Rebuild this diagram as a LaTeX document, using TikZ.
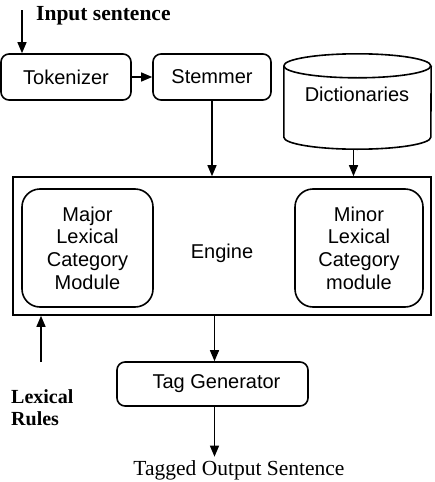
\documentclass[tikz,border=0pt]{standalone}
\usepackage{fontspec}
\setmainfont{Liberation Serif}
\setsansfont{Liberation Sans}
\usetikzlibrary{arrows.meta}

\tikzset{
    block/.style={draw, line width=1.6pt, rounded corners=8pt, font=\sffamily\fontsize{20}{22}\selectfont},
    module/.style={block, rounded corners=18pt, align=center, font=\sffamily\fontsize{20}{22.7}\selectfont},
    flow/.style={line width=1.4pt, -{Triangle[length=11pt,width=9pt]}},
    boldlbl/.style={font=\bfseries\fontsize{20}{22}\selectfont, align=left}
}

\begin{document}
\begin{tikzpicture}[x=1pt,y=1pt]
            \useasboundingbox (0,0) rectangle (434,-482);
            % top row
            \node[block, minimum width=130pt, minimum height=46pt] (tok) at (66,-77) {Tokenizer};
            \node[block, minimum width=118pt, minimum height=46pt] (stem) at (212,-77) {Stemmer};
            \node[minimum width=147pt, minimum height=95pt] (dict) at (357.5,-101.5) {};
            \draw[line width=1.6pt] (dict.north west) ++(0,-12) arc (180:-180:73.5 and 12);
            \draw[line width=1.6pt] ([yshift=-12pt]dict.north west) -- ([yshift=12pt]dict.south west)
                arc (180:360:73.5 and 12) -- ([yshift=-12pt]dict.north east);
            \node[font=\sffamily\fontsize{20}{22}\selectfont] (dictlbl) at (357,-94) {Dictionaries};
            % engine
            \node[draw, line width=1.6pt, minimum width=418pt, minimum height=138pt] (engine) at (222,-246) {};
            \node[module, minimum width=131pt, minimum height=118pt] (major) at (87.5,-248) {Major\\Lexical\\Category\\Module};
            \node[module, minimum width=128pt, minimum height=118pt] (minor) at (359,-248) {Minor\\Lexical\\Category\\module};
            \node[font=\sffamily\fontsize{20}{22}\selectfont] (enginelbl) at (222,-253) {Engine};
            % bottom
            \node[block, minimum width=191pt, minimum height=44pt] (tag) at (212.5,-384) {\hspace{8pt}Tag Generator};
            \node[font=\fontsize{21.5}{24}\selectfont] (out) at (239,-470) {Tagged Output Sentence};
            \node[boldlbl, anchor=west, inner sep=0pt] (inlbl) at (36,-16) {\fontsize{21.5}{24}\selectfont Input sentence};
            \node[boldlbl, anchor=west, inner sep=0pt] (ruleslbl) at (11,-408) {Lexical\\Rules};
            \coordinate (inpt) at (22,-10);
            \coordinate (rulept) at (41,-362);
            % connectors
            \draw[flow] (inpt) -- (inpt |- tok.north);
            \draw[flow] (tok.east) -- (stem.west);
            \draw[flow] (stem.south) -- (stem.south |- engine.north);
            \draw[flow] ([xshift=-4pt]dict.south) -- ([xshift=-4pt]dict.south |- engine.north);
            \draw[flow] (rulept) -- (rulept |- engine.south);
            \draw[flow] ([xshift=2pt]tag.north |- engine.south) -- ([xshift=2pt]tag.north);
            \draw[flow] ([xshift=2pt]tag.south) -- ([xshift=2pt]tag.south |- out.north);
        \end{tikzpicture}
\end{document}
